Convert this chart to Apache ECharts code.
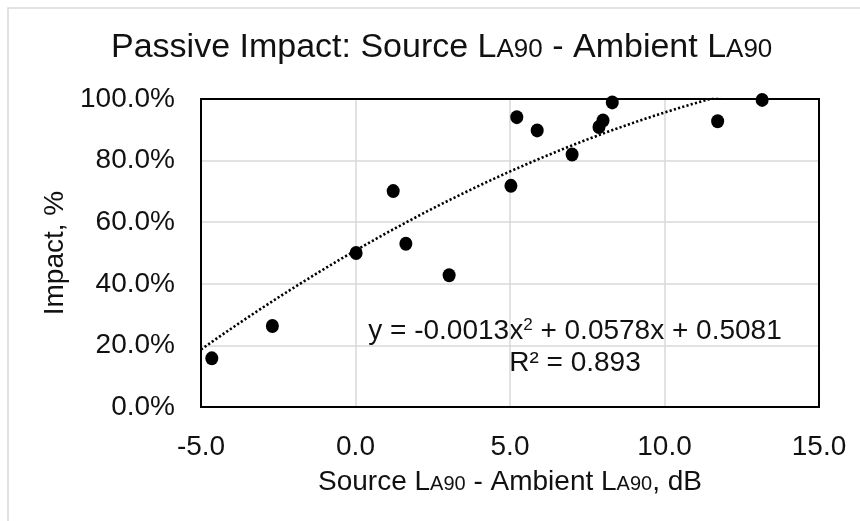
<!DOCTYPE html>
<html>
<head>
<meta charset="utf-8">
<script src="https://cdn.jsdelivr.net/npm/echarts@6/dist/echarts.min.js"></script>
<style>html,body{margin:0;padding:0;background:#fff;}#c{width:860px;height:521px;}</style>
</head>
<body>
<div id="c"></div>
<script>
// Data
var xValues = [-4.65, -2.69, 0.02, 1.22, 1.63, 3.03, 5.03, 5.22, 5.88, 7.01, 7.88, 8.01, 8.31, 11.72, 13.16];
var yValues = [0.158, 0.263, 0.500, 0.701, 0.530, 0.428, 0.718, 0.941, 0.898, 0.820, 0.909, 0.930, 0.989, 0.928, 0.997];
// Trendline as stated on the chart: y = a x^2 + b x + c
var trendCoef = [-0.0013, 0.0578, 0.5081];
var trendRange = [-5, 13.16];
var xTicks = [-5, 0, 5, 10, 15];
var yTicks = [0, 0.2, 0.4, 0.6, 0.8, 1.0];

var points = xValues.map(function (x, i) { return [x, yValues[i]]; });
var trend = [];
for (var k = 0; k <= 200; k++) {
  var x = trendRange[0] + (trendRange[1] - trendRange[0]) * k / 200;
  trend.push([x, trendCoef[0] * x * x + trendCoef[1] * x + trendCoef[2]]);
}

var FONT = '"Liberation Sans", Arial, sans-serif';
var TXT = '#111';
var chart = echarts.init(document.getElementById('c'), null, { renderer: 'canvas' });
chart.setOption({
  backgroundColor: '#fff',
  animation: false,
  grid: { left: 201, right: 41, top: 99, bottom: 114, show: true, borderColor: '#000', borderWidth: 2, backgroundColor: 'transparent', z: 1 },
  xAxis: {
    type: 'value', min: xTicks[0], max: xTicks[xTicks.length - 1], interval: 5,
    axisLine: { show: false }, axisTick: { show: false },
    splitLine: { show: true, showMinLine: false, showMaxLine: false, lineStyle: { color: '#d9d9d9', width: 1.5 } },
    axisLabel: { margin: 26, color: TXT, fontSize: 28, fontFamily: FONT, formatter: function (v) { return v.toFixed(1); } }
  },
  yAxis: {
    type: 'value', min: yTicks[0], max: yTicks[yTicks.length - 1], interval: 0.2,
    axisLine: { show: false }, axisTick: { show: false },
    splitLine: { show: true, showMinLine: false, showMaxLine: false, lineStyle: { color: '#d9d9d9', width: 1.5 } },
    axisLabel: { margin: 26, color: TXT, fontSize: 28, fontFamily: FONT, formatter: function (v) { return (v * 100).toFixed(1) + '%'; } }
  },
  series: [
    {
      type: 'line', data: trend, showSymbol: false, symbol: 'none', clip: true, z: 2,
      lineStyle: { color: '#000', width: 2.6, type: [2.2, 2.2] }
    },
    {
      type: 'scatter', data: points, symbol: 'circle', symbolSize: [13, 14], clip: false, z: 3,
      itemStyle: { color: '#000', opacity: 1 }
    }
  ],
  graphic: [
    { type: 'rect', shape: { x: 8, y: 8, width: 870, height: 530 }, style: { fill: 'none', stroke: '#d9d9d9', lineWidth: 1.5 }, silent: true, z: -1 },
    { type: 'text', x: 111, y: 48, style: {
      text: '{n|Passive Impact: Source L}{s|A90}{n| - Ambient L}{s|A90}',
      verticalAlign: 'middle', align: 'left', fill: TXT, fontFamily: FONT,
      rich: { n: { fontSize: 34, fontFamily: FONT, fill: TXT }, s: { fontSize: 26, fontFamily: FONT, fill: TXT, verticalAlign: 'bottom', padding: [0, 0, 2, 0] } }
    } },
    { type: 'text', x: 510, y: 482, style: {
      text: '{n|Source L}{s|A90}{n| - Ambient L}{s|A90}{n|, dB}',
      verticalAlign: 'middle', align: 'center', fill: TXT, fontFamily: FONT,
      rich: { n: { fontSize: 28, fontFamily: FONT, fill: TXT }, s: { fontSize: 20, fontFamily: FONT, fill: TXT, verticalAlign: 'bottom', padding: [0, 0, 2, 0] } }
    } },
    { type: 'text', x: 55, y: 253, rotation: Math.PI / 2, style: {
      text: 'Impact, %', verticalAlign: 'middle', align: 'center', fill: TXT, fontSize: 28, fontFamily: FONT
    } },
    { type: 'text', x: 575, y: 331, style: {
      text: '{n|y = -0.0013x}{p|2}{n| + 0.0578x + 0.5081}',
      verticalAlign: 'middle', align: 'center', fill: TXT, fontFamily: FONT,
      rich: { n: { fontSize: 28, fontFamily: FONT, fill: TXT }, p: { fontSize: 17, fontFamily: FONT, fill: TXT, verticalAlign: 'top', padding: [0, 0, 12, 0] } }
    } },
    { type: 'text', x: 575, y: 363, style: {
      text: 'R² = 0.893', verticalAlign: 'middle', align: 'center', fill: TXT, fontSize: 28, fontFamily: FONT
    } }
  ]
});
</script>
</body>
</html>
